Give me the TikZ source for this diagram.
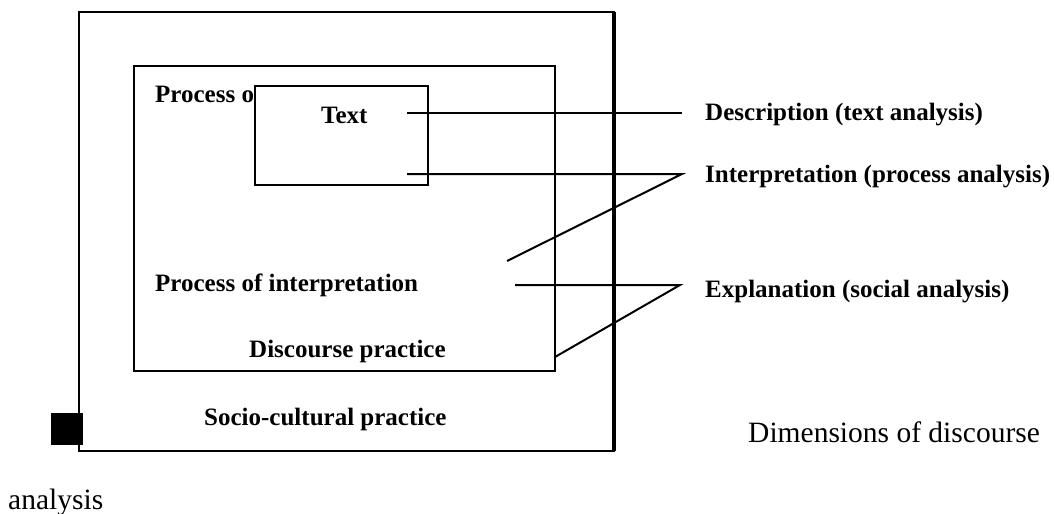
\documentclass[tikz,border=0pt]{standalone}
\usepackage{fontspec}
\setmainfont{Liberation Serif}
\begin{document}
\begin{tikzpicture}[x=1pt,y=-1pt,
  lbl/.style={anchor=base west, inner sep=0pt, font=\fontsize{25}{30}\selectfont\bfseries},
  captxt/.style={anchor=base west, inner sep=0pt, font=\fontsize{29.5}{34}\selectfont},
  boxline/.style={line width=2.2pt, line join=miter},
  conn/.style={line width=2pt, line join=miter}]
\useasboundingbox (0,0) rectangle (1055,514);
% outer box (socio-cultural practice)
\coordinate (oNW) at (79,12);
\coordinate (oSE) at (614,451);
\draw[boxline] (oNW) rectangle (oSE);
\draw[line width=3.2pt] (614,12) -- (614,451);
% middle box (discourse practice)
\coordinate (mNW) at (134,66);
\coordinate (mSE) at (555,371);
\draw[boxline] (mNW) rectangle (mSE);
% black square
\fill (51,413) rectangle (83,445);
% partly hidden label
\begin{scope}
\clip (140,70) rectangle (255,115);
\node[lbl] (prod) at (155,102) {Process of};
\end{scope}
\coordinate (tNW) at (255,86);
\coordinate (tSE) at (428,185);
\filldraw[boxline, fill=white] (tNW) rectangle (tSE);
\node[lbl] (text) at (321,123) {Text};
\node[lbl] (interp) at (155,291) {Process of interpretation};
\node[lbl] (disc) at (249,357) {Discourse practice};
\node[lbl] (socio) at (204,425) {Socio-cultural practice};
% right labels
\node[lbl] (descr) at (705,120) {Description (text analysis)};
\node[lbl] (interpr) at (705,182) {Interpretation (process analysis)};
\node[lbl] (expl) at (705,297) {Explanation (social analysis)};
\node[captxt] (dim) at (748,442) {Dimensions of discourse};
\node[captxt] (ana) at (8,509) {analysis};
% connectors
\coordinate (d1) at (407,113);
\coordinate (d2) at (682,113);
\draw[conn] (d1) -- (d2);
\coordinate (i1) at (407,174);
\coordinate (i2) at (682,174);
\coordinate (i3) at (507,261);
\draw[conn] (i1) -- (i2) -- (i3);
\coordinate (e1) at (515,285);
\coordinate (e2) at (680,285);
\coordinate (e3) at (555,357);
\draw[conn] (e1) -- (e2) -- (e3);
\end{tikzpicture}
\end{document}
